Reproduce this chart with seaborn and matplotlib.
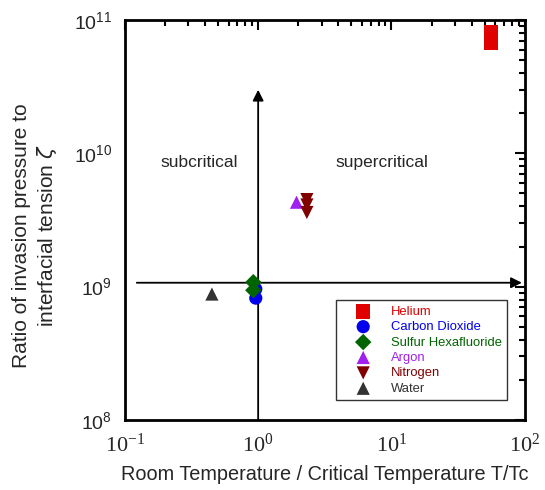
import matplotlib
matplotlib.use("Agg")
import matplotlib.pyplot as plt
import seaborn as sns
import pandas as pd
from matplotlib.ticker import LogLocator, NullFormatter, FuncFormatter
import numpy as np

sns.set_theme(style="white")
plt.rcParams['font.family'] = ['Liberation Sans', 'DejaVu Sans']

fluids = ["Helium", "Helium",
          "Carbon Dioxide", "Carbon Dioxide",
          "Sulfur Hexafluoride", "Sulfur Hexafluoride",
          "Argon",
          "Nitrogen", "Nitrogen", "Nitrogen",
          "Water"]
t_ratio = [55.6, 55.6,
           0.96, 0.96,
           0.92, 0.92,
           1.94,
           2.32, 2.32, 2.32,
           0.45]
zeta = [8.1e10, 6.8e10,
        9.6e8, 8.2e8,
        1.08e9, 9.4e8,
        4.3e9,
        4.5e9, 4.1e9, 3.6e9,
        8.8e8]

order = ["Helium", "Carbon Dioxide", "Sulfur Hexafluoride", "Argon", "Nitrogen", "Water"]
colors = ["#e00000", "#0000ee", "#006400", "#a020f0", "#800000", "#333333"]
markers = ["s", "o", "D", "^", "v", "^"]
sizes = [110, 90, 70, 90, 90, 90]

df = pd.DataFrame({"fluid": fluids, "T/Tc": t_ratio, "zeta": zeta})

fig = plt.figure(figsize=(5.45, 4.9), dpi=100)
ax = fig.add_axes([0.229, 0.143, 0.734, 0.816])

# arrows (drawn first so markers sit on top)
ax.annotate("", xy=(95, 1.07e9), xytext=(0.123, 1.07e9),
            arrowprops=dict(arrowstyle="-|>", color="black", lw=1.3,
                            mutation_scale=16, shrinkA=0, shrinkB=0))
ax.annotate("", xy=(1.0, 3.0e10), xytext=(1.0, 1e8),
            arrowprops=dict(arrowstyle="-|>", color="black", lw=1.3,
                            mutation_scale=16, shrinkA=0, shrinkB=0))

for name, c, m, s in zip(order, colors, markers, sizes):
    sub = df[df["fluid"] == name]
    sns.scatterplot(data=sub, x="T/Tc", y="zeta", ax=ax, color=c, marker=m,
                    s=s, edgecolor="none", label=name, zorder=3)

ax.set_xscale("log")
ax.set_yscale("log")
ax.set_xlim(0.1, 100)
ax.set_ylim(1e8, 1e11)

for sp in ax.spines.values():
    sp.set_color("black")
    sp.set_linewidth(2)

def pow_fmt(v, pos):
    e = int(round(np.log10(v)))
    return "$\\mathregular{10^{%d}}$" % e

ax.xaxis.set_major_locator(LogLocator(base=10, numticks=10))
ax.yaxis.set_major_locator(LogLocator(base=10, numticks=10))
ax.xaxis.set_minor_locator(LogLocator(base=10, subs=range(2, 10), numticks=20))
ax.yaxis.set_minor_locator(LogLocator(base=10, subs=range(2, 10), numticks=20))
ax.xaxis.set_major_formatter(FuncFormatter(pow_fmt))
ax.yaxis.set_major_formatter(FuncFormatter(pow_fmt))
ax.xaxis.set_minor_formatter(NullFormatter())
ax.yaxis.set_minor_formatter(NullFormatter())
ax.tick_params(which="both", direction="in", top=True, right=True, color="black")
ax.tick_params(which="major", length=7, width=1.5)
ax.tick_params(which="minor", length=4, width=1.5)
ax.tick_params(axis="x", which="major", pad=10)
ax.tick_params(axis="y", which="major", pad=9)

for lab in ax.get_xticklabels():
    lab.set_fontfamily(["Liberation Serif", "DejaVu Serif"])
    lab.set_fontsize(16)
for lab in ax.get_yticklabels():
    lab.set_fontsize(14)

ax.set_xlabel("Room Temperature / Critical Temperature T/Tc", fontsize=14.3, labelpad=6)
ax.set_ylabel("Ratio of invasion pressure to\ninterfacial tension $\\zeta$", fontsize=15)
ax.yaxis.set_label_coords(-0.165, 0.46)

ax.text(0.36, 8.6e9, "subcritical", fontsize=12.5, ha="center", va="center")
ax.text(8.5, 8.6e9, "supercritical", fontsize=12.5, ha="center", va="center")

leg = ax.legend(loc="lower right", bbox_to_anchor=(0.955, 0.05), fontsize=9.4,
                frameon=True, fancybox=False, edgecolor="black",
                borderpad=0.4, handlelength=3.4, handletextpad=0.4,
                labelspacing=0.25, borderaxespad=0)
leg.get_frame().set_linewidth(1.0)
for txt, c in zip(leg.get_texts(), colors):
    txt.set_color(c)

fig.savefig("out.png", dpi=100)
